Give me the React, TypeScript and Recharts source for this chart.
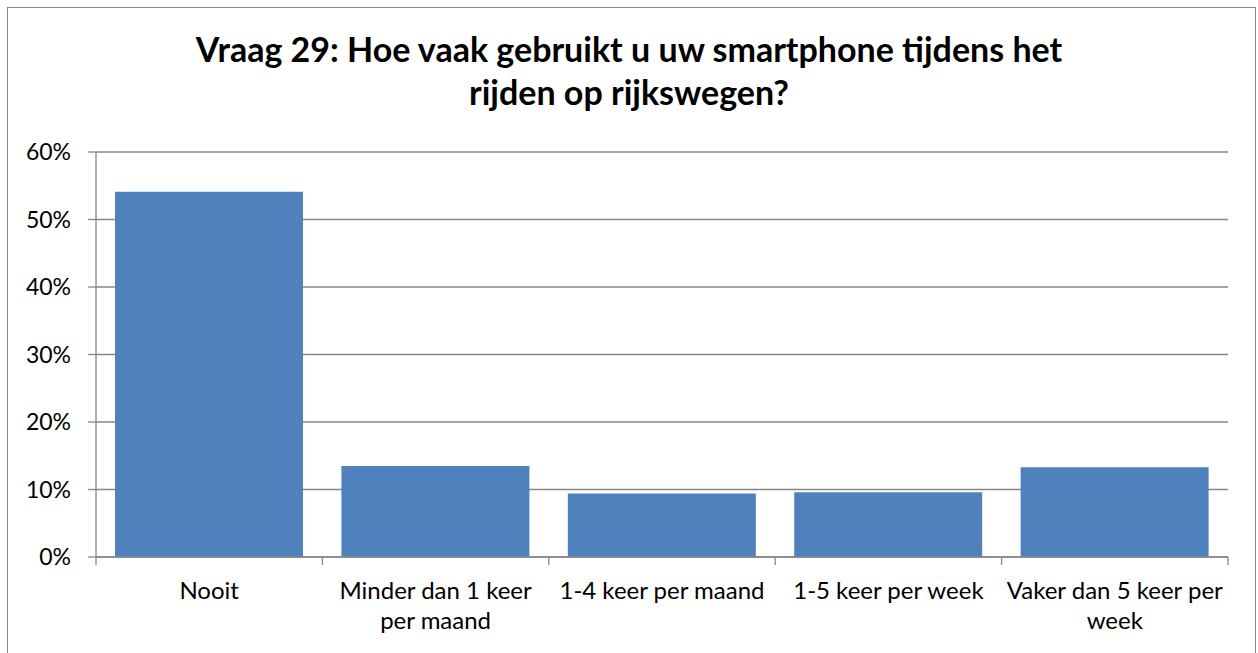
import { Bar, BarChart, CartesianGrid, XAxis, YAxis } from 'recharts';

const categories = [
  'Nooit',
  'Minder dan 1 keer per maand',
  '1-4 keer per maand',
  '1-5 keer per week',
  'Vaker dan 5 keer per week',
];
const tickLines = [
  ['Nooit'],
  ['Minder dan 1 keer', 'per maand'],
  ['1-4 keer per maand'],
  ['1-5 keer per week'],
  ['Vaker dan 5 keer per', 'week'],
];
const values = [54.1, 13.5, 9.4, 9.6, 13.3];
const yTicks = [0, 10, 20, 30, 40, 50, 60];

const data = categories.map((name, i) => ({ name, value: values[i] }));

const W = 1258;
const H = 653;
const M = { top: 152, right: 30, bottom: 0, left: 0 };
const Y_W = 96;
const X_H = 96;
const GRAY = '#878787';
const FONT = 'Lato, sans-serif';
const band = (W - M.left - Y_W - M.right) / categories.length;

function CatTick(props: any) {
  const { x, y, index } = props;
  const lines = tickLines[index] || [];
  const left = x - band / 2;
  return (
    <g>
      <line x1={left} y1={y - 8} x2={left} y2={y} stroke={GRAY} strokeWidth={1.3} />
      {index === categories.length - 1 && (
        <line x1={x + band / 2} y1={y - 8} x2={x + band / 2} y2={y} stroke={GRAY} strokeWidth={1.3} />
      )}
      {lines.map((l, i) => (
        <text key={i} x={x} y={y + 34 + i * 30} textAnchor="middle" fill="#000" fontSize={24} fontFamily={FONT}>
          {l}
        </text>
      ))}
    </g>
  );
}

export default function App() {
  return (
    <div style={{ position: 'absolute', left: 0, top: 0, width: W, height: H, overflow: 'hidden', background: '#fff' }}>
      <div
        style={{
          position: 'absolute',
          left: 7,
          top: 7,
          width: W - 9,
          height: H + 20,
          border: `1.5px solid ${GRAY}`,
          boxSizing: 'border-box',
        }}
      />
      <div
        style={{
          position: 'absolute',
          left: 0,
          top: 27,
          width: W,
          textAlign: 'center',
          fontFamily: FONT,
          fontWeight: 700,
          fontSize: 34,
          lineHeight: '43px',
          color: '#000',
        }}
      >
        Vraag 29: Hoe vaak gebruikt u uw smartphone tijdens het
        <br />
        rijden op rijkswegen?
      </div>
      <div style={{ position: 'absolute', left: 0, top: 0 }}>
        <BarChart width={W} height={H} data={data} margin={M} barCategoryGap="8.4%">
          <CartesianGrid horizontal vertical={false} stroke={GRAY} strokeWidth={1.3} />
          <XAxis
            dataKey="name"
            height={X_H}
            interval={0}
            tickSize={8}
            tickMargin={0}
            tickLine={false}
            axisLine={{ stroke: GRAY, strokeWidth: 1.3 }}
            tick={<CatTick />}
          />
          <YAxis
            width={Y_W}
            domain={[0, 60]}
            ticks={yTicks}
            interval={0}
            tickFormatter={(v: number) => `${v}%`}
            tickSize={8}
            tickMargin={17}
            axisLine={{ stroke: GRAY, strokeWidth: 1.3 }}
            tickLine={{ stroke: GRAY, strokeWidth: 1.3 }}
            tick={{ fill: '#000', fontSize: 23, fontFamily: FONT }}
          />
          <Bar dataKey="value" fill="#4F81BD" isAnimationActive={false} />
        </BarChart>
      </div>
    </div>
  );
}
